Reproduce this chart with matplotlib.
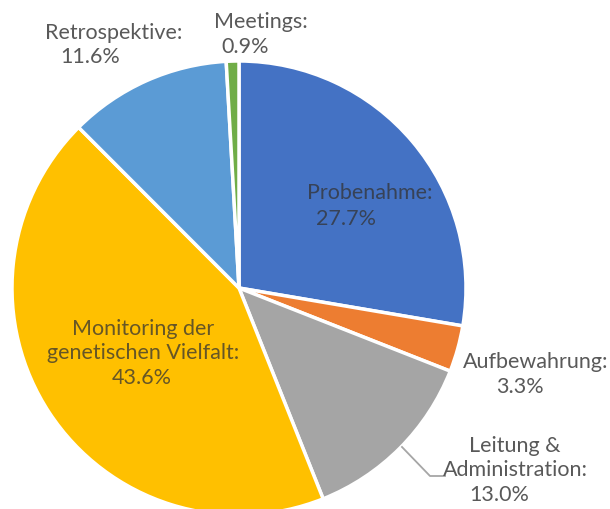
import matplotlib.pyplot as plt

# data (clockwise from 12 o'clock)
categories = ["Probenahme", "Aufbewahrung", "Leitung &\nAdministration", "Monitoring der\ngenetischen Vielfalt",
              "Retrospektive", "Meetings"]
shares = [27.7, 3.3, 13.0, 43.6, 11.6, 0.9]
colors = ["#4472C4", "#ED7D31", "#A5A5A5", "#FFC000", "#5B9BD5", "#70AD47"]

W, H = 610, 510
fig = plt.figure(figsize=(W / 100, H / 100), dpi=100)
ax = fig.add_axes([0, 0, 1, 1])

cx, cy, r = 239, H - 289, 227
ax.pie(shares, colors=colors, startangle=90, counterclock=False, center=(cx, cy), radius=r,
       wedgeprops=dict(edgecolor="white", linewidth=2.5), frame=True)
ax.set_xlim(0, W)
ax.set_ylim(0, H)
ax.axis("off")

plt.rcParams["font.family"] = ["Lato", "DejaVu Sans"]

# label placement in pixels from top-left: (name x, name y, value x, value y, inside?)
spots = [
    (370, 193, 346, 219, True),
    (536, 362, 520, 387, False),
    (515, 458, 499, 495, False),
    (143, 341, 142, 378, True),
    (114, 33, 90, 57, False),
    (261, 22, 245, 47, False),
]
for name, val, (nx, ny, vx, vy, inside) in zip(categories, shares, spots):
    col = "#333333" if inside else "#595959"
    alpha = 0.75 if inside else 1.0
    ax.text(nx, H - ny, name + ":", ha="center", va="center", fontsize=15.5, color=col, alpha=alpha,
            linespacing=1.2)
    ax.text(vx, H - vy, f"{val:.1f}%", ha="center", va="center", fontsize=15.5, color=col, alpha=alpha)

# leader line for Leitung & Administration
ax.plot([402, 430, 445], [H - 448, H - 477, H - 477], color="#A6A6A6", lw=1.3)

fig.savefig("out.png", dpi=100)
